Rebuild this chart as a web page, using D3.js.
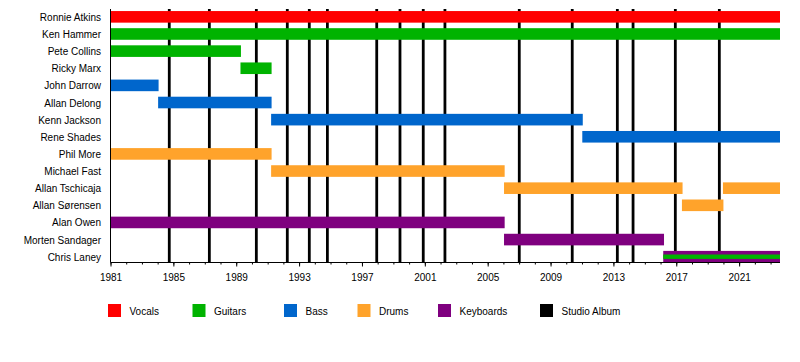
<!DOCTYPE html>
<html>
<head>
<meta charset="utf-8">
<script src="https://cdn.jsdelivr.net/npm/d3@7"></script>
<style>
  html, body { margin: 0; padding: 0; background: #fff; }
  svg { display: block; font-family: "Liberation Sans", Arial, sans-serif; }
</style>
</head>
<body>
<svg id="chart" width="800" height="362"></svg>
<script>
// ---- data ----
const members = ["Ronnie Atkins","Ken Hammer","Pete Collins","Ricky Marx","John Darrow","Allan Delong","Kenn Jackson","Rene Shades","Phil More","Michael Fast","Allan Tschicaja","Allan Sørensen","Alan Owen","Morten Sandager","Chris Laney"];
const roles = ["Vocals","Guitars","Bass","Drums","Keyboards"];
const roleColors = ["#ff0000","#00b300","#0066cc","#ffa32b","#7f007f"];
const periodStart = 1981;
const periodEnd = 2023.6;
// tenure bars: [member, role, from, till]
const tenures = [
  ["Ronnie Atkins","Vocals",1981,periodEnd],
  ["Ken Hammer","Guitars",1981,periodEnd],
  ["Pete Collins","Guitars",1981,1989.3],
  ["Ricky Marx","Guitars",1989.27,1991.25],
  ["John Darrow","Bass",1981,1984.06],
  ["Allan Delong","Bass",1984.03,1991.25],
  ["Kenn Jackson","Bass",1991.22,2011.05],
  ["Rene Shades","Bass",2011.02,periodEnd],
  ["Phil More","Drums",1981,1991.25],
  ["Michael Fast","Drums",1991.22,2006.08],
  ["Allan Tschicaja","Drums",2006.04,2017.4],
  ["Allan Tschicaja","Drums",2019.97,periodEnd],
  ["Allan Sørensen","Drums",2017.36,2020.0],
  ["Alan Owen","Keyboards",1981,2006.08],
  ["Morten Sandager","Keyboards",2006.04,2016.22],
  ["Chris Laney","Keyboards",2016.17,periodEnd]
];
// secondary (thin) role bars
const secondary = [
  ["Chris Laney","Guitars",2016.17,periodEnd]
];
const albumYears = [1984.74,1987.29,1990.28,1992.25,1993.65,1994.8,1997.94,1999.42,2000.9,2002.28,2007.01,2010.38,2013.25,2014.25,2016.94,2019.74];
const majorTicks = [1981,1985,1989,1993,1997,2001,2005,2009,2013,2017,2021];
const minorTicks = d3.range(1981, 2024, 1);
const legendLabels = ["Vocals","Guitars","Bass","Drums","Keyboards","Studio Album"];
const legendColors = ["#ff0000","#00b300","#0066cc","#ffa32b","#7f007f","#000000"];

// ---- layout ----
const plotLeft = 110.5, plotRight = 780, plotTop = 9, axisY = 262.5;
const legendX = [108, 192.5, 284, 357.5, 438, 540];
const legendY = 304;

const svg = d3.select("#chart");
const x = d3.scaleLinear().domain([periodStart, periodEnd]).range([plotLeft, plotRight]);
const y = d3.scalePoint().domain(members).range([16.85, 256.7]);
const color = d3.scaleOrdinal().domain(roles).range(roleColors);
const barH = 11.6;

// album lines (behind)
svg.append("g").selectAll("line").data(albumYears).join("line")
  .attr("x1", d => x(d)).attr("x2", d => x(d))
  .attr("y1", plotTop).attr("y2", axisY)
  .attr("stroke", "#000").attr("stroke-width", 2.8);

// bars
svg.append("g").selectAll("rect").data(tenures).join("rect")
  .attr("x", d => x(d[2]))
  .attr("width", d => x(d[3]) - x(d[2]))
  .attr("y", d => y(d[0]) - barH / 2)
  .attr("height", barH)
  .attr("fill", d => color(d[1]));

svg.append("g").selectAll("rect").data(secondary).join("rect")
  .attr("x", d => x(d[2]))
  .attr("width", d => x(d[3]) - x(d[2]))
  .attr("y", d => y(d[0]) - 2.2)
  .attr("height", 4.4)
  .attr("fill", d => color(d[1]));

// name labels
svg.append("g").selectAll("text").data(members).join("text")
  .attr("x", 101).attr("y", d => y(d) + 0.5)
  .attr("text-anchor", "end").attr("dominant-baseline", "central")
  .attr("font-size", 10).attr("fill", "#000")
  .text(d => d);

// axes
svg.append("line").attr("x1", plotLeft).attr("x2", plotLeft)
  .attr("y1", plotTop).attr("y2", axisY).attr("stroke", "#000").attr("stroke-width", 1);
const axis = d3.axisBottom(x).tickValues(majorTicks).tickFormat(d3.format("d"))
  .tickSizeInner(4).tickSizeOuter(0).tickPadding(7);
const gAxis = svg.append("g").attr("transform", `translate(0,${axisY})`).call(axis);
gAxis.select(".domain").attr("stroke", "#000").attr("d", `M${plotLeft},0H${plotRight}`);
gAxis.selectAll("text").attr("font-size", 10).attr("font-family", "Liberation Sans, Arial, sans-serif").attr("fill", "#000");
const axisMinor = d3.axisBottom(x).tickValues(minorTicks).tickFormat("").tickSizeInner(2).tickSizeOuter(0);
const gMinor = svg.append("g").attr("transform", `translate(0,${axisY})`).call(axisMinor);
gMinor.select(".domain").remove();

// legend
const lg = svg.append("g").selectAll("g").data(legendLabels).join("g")
  .attr("transform", (d, i) => `translate(${legendX[i]},${legendY})`);
lg.append("rect").attr("width", 13).attr("height", 13).attr("fill", (d, i) => legendColors[i]);
lg.append("text").attr("x", 21.5).attr("y", 7).attr("dominant-baseline", "central")
  .attr("font-size", 10).attr("fill", "#000").text(d => d);
</script>
</body>
</html>
